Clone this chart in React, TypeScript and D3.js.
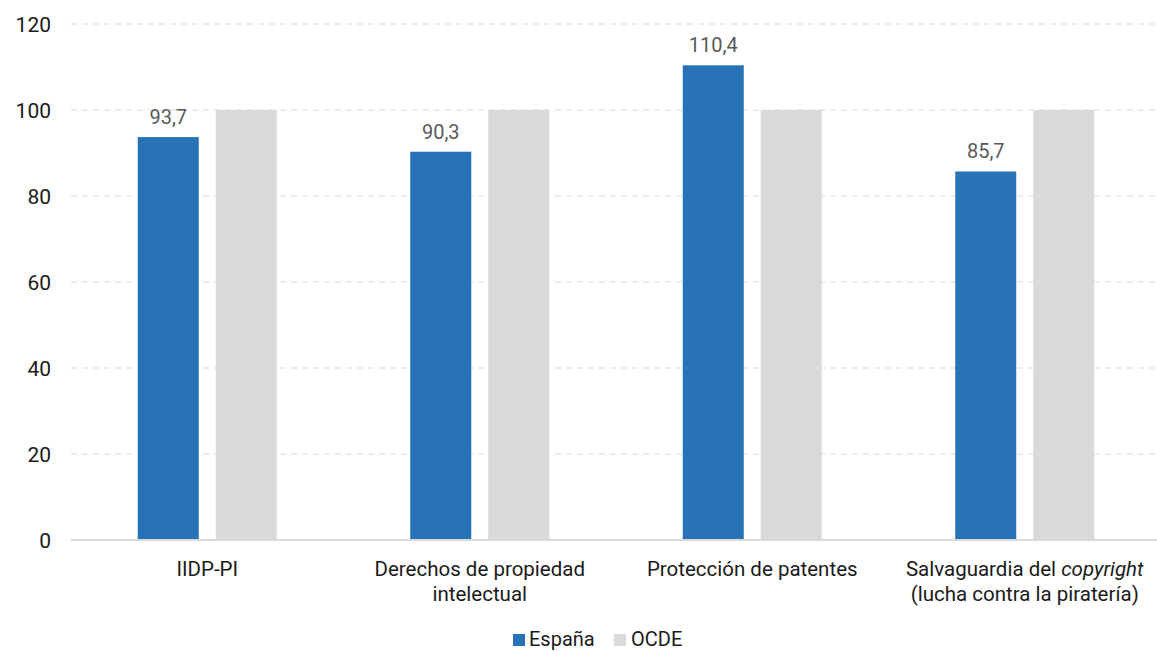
import React from "react";
import * as d3 from "d3";

const categories: string[][] = [
  ["IIDP-PI"],
  ["Derechos de propiedad", "intelectual"],
  ["Protección de patentes"],
  ["Salvaguardia del |copyright|", "(lucha contra la piratería)"],
];
const espana: number[] = [93.7, 90.3, 110.4, 85.7];
const ocde: number[] = [100, 100, 100, 100];
const yTicks: number[] = [0, 20, 40, 60, 80, 100, 120];
const seriesNames: string[] = ["España", "OCDE"];

const W = 1157;
const H = 652;
const FONT = "Roboto, 'Noto Sans', sans-serif";
const BLUE = "#2872b6";
const GREY = "#d9d9d9";

export default function App() {
  const x = d3.scaleBand<number>().domain(d3.range(categories.length)).range([71, 1161]);
  const y = d3.scaleLinear().domain([0, 120]).range([540, 24]);
  const barW = 61;
  const gap = 17;
  const fmt = (v: number) => v.toFixed(1).replace(".", ",");

  // segments wrapped in '|' are set in italics
  const renderLabel = (line: string) =>
    line.split("|").map((p, i) => (
      <tspan key={i} fontStyle={i % 2 === 1 ? "italic" : "normal"}>
        {p}
      </tspan>
    ));

  return (
    <svg width={W} height={H} style={{ position: "absolute", left: 0, top: 0 }} fontFamily={FONT}>
      <rect width={W} height={H} fill="#fff" />
      {yTicks.map((t) => (
        <g key={t}>
          {t !== 0 && (
            <line x1={71} x2={W} y1={y(t)} y2={y(t)} stroke="#d9d9d9" strokeWidth={1} strokeDasharray="6,5" />
          )}
          <text x={51} y={y(t)} dy="0.36em" textAnchor="end" fontSize={21} fill="#1a1a1a">
            {t}
          </text>
        </g>
      ))}
      {categories.map((lines, i) => {
        const c = (x(i) as number) + x.bandwidth() / 2;
        const bx1 = c - gap / 2 - barW;
        const bx2 = c + gap / 2;
        return (
          <g key={i}>
            <rect x={bx1} y={y(espana[i])} width={barW} height={y(0) - y(espana[i])} fill={BLUE} />
            <rect x={bx2} y={y(ocde[i])} width={barW} height={y(0) - y(ocde[i])} fill={GREY} />
            <text x={bx1 + barW / 2} y={y(espana[i]) - 13} textAnchor="middle" fontSize={20} fill="#595959">
              {fmt(espana[i])}
            </text>
            {lines.map((ln, j) => (
              <text key={j} x={c} y={576 + j * 25} textAnchor="middle" fontSize={20.5} fill="#1a1a1a">
                {renderLabel(ln)}
              </text>
            ))}
          </g>
        );
      })}
      <line x1={71} x2={W} y1={y(0)} y2={y(0)} stroke="#d9d9d9" strokeWidth={2} />
      <g>
        <rect x={513} y={634} width={12} height={12} fill={BLUE} />
        <text x={529} y={646} fontSize={20} fill="#1a1a1a">{seriesNames[0]}</text>
        <rect x={614} y={634} width={12} height={12} fill={GREY} />
        <text x={631} y={646} fontSize={20} fill="#1a1a1a">{seriesNames[1]}</text>
      </g>
    </svg>
  );
}
